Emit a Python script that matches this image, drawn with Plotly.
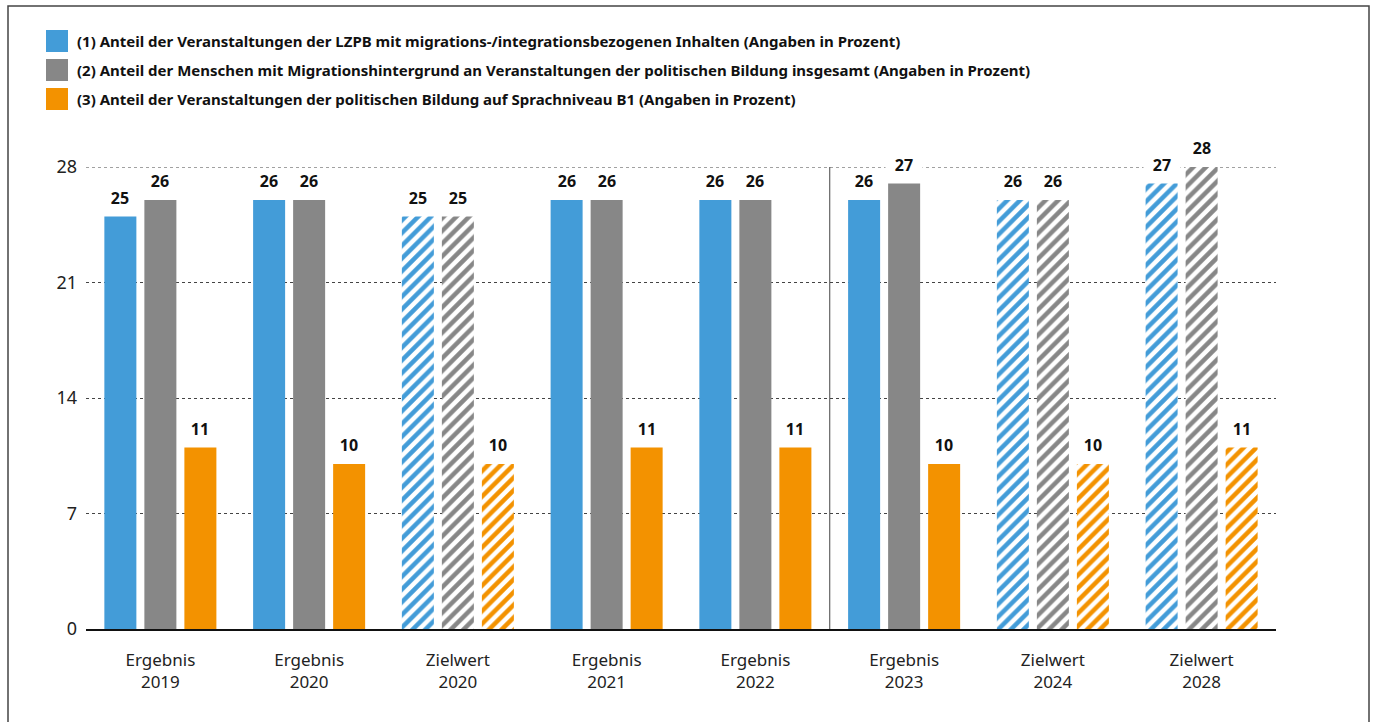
import plotly.graph_objects as go

categories = ["Ergebnis<br>2019", "Ergebnis<br>2020", "Zielwert<br>2020", "Ergebnis<br>2021",
              "Ergebnis<br>2022", "Ergebnis<br>2023", "Zielwert<br>2024", "Zielwert<br>2028"]
hatched = [False, False, True, False, False, False, True, True]

series_names = [
    "(1) Anteil der Veranstaltungen der LZPB mit migrations-/integrationsbezogenen Inhalten (Angaben in Prozent)",
    "(2) Anteil der Menschen mit Migrationshintergrund an Veranstaltungen der politischen Bildung insgesamt (Angaben in Prozent)",
    "(3) Anteil der Veranstaltungen der politischen Bildung auf Sprachniveau B1 (Angaben in Prozent)",
]
values_1 = [25, 26, 25, 26, 26, 26, 26, 27]
values_2 = [26, 26, 25, 26, 26, 27, 26, 28]
values_3 = [11, 10, 10, 11, 11, 10, 10, 11]
colors = ["#439CD8", "#878787", "#F39200"]
y_ticks = [0, 7, 14, 21, 28]

W, H = 1375, 722
L, R, T, B = 86, 99, 167, 93
pw, ph = W - L - R, H - T - B

def px_x(x):
    return (x - L) / pw

def px_y(y):
    return (H - B - y) / ph

fig = go.Figure()
all_vals = [values_1, values_2, values_3]
x_idx = list(range(len(categories)))
n = len(categories)

# top gridline (at the range edge plotly omits it)
fig.add_shape(type="line", xref="x", yref="y", x0=-0.5, x1=n - 0.5,
              y0=y_ticks[-1], y1=y_ticks[-1], layer="below",
              line=dict(color="#444", width=1, dash="3px,3px"))

for i, (name, vals, col) in enumerate(zip(series_names, all_vals, colors)):
    fig.add_trace(go.Bar(
        x=x_idx, y=vals, name=name,
        marker=dict(
            color=col,
            line=dict(width=0),
            pattern=dict(
                shape=[("/" if h else "") for h in hatched],
                fgcolor=[col] * n, bgcolor=["white"] * n, size=9, solidity=0.5,
                fillmode="replace",
            ),
        ),
        showlegend=False,
        cliponaxis=False,
    ))
    for xi, v in zip(x_idx, vals):
        fig.add_annotation(
            x=xi, y=v, xref="x", yref="y", text=f"<b>{v}</b>",
            showarrow=False, xanchor="center", yanchor="bottom",
            xshift=(i - 1) * 40, yshift=6, bgcolor="white", width=34,
            font=dict(family="Noto Sans", size=16, color="#111"),
        )

# custom legend
legend_rows = [41, 70, 99]
for name, col, yc in zip(series_names, colors, legend_rows):
    fig.add_shape(type="rect", xref="paper", yref="paper",
                  x0=px_x(46), x1=px_x(68), y0=px_y(yc + 11), y1=px_y(yc - 11),
                  fillcolor=col, line=dict(width=0))
    fig.add_annotation(xref="paper", yref="paper", x=px_x(75), y=px_y(yc),
                       text=f"<b>{name}</b>", showarrow=False,
                       xanchor="left", yanchor="middle",
                       font=dict(family="Noto Sans", size=15, color="#111"))

# frame
fig.add_shape(type="rect", xref="paper", yref="paper",
              x0=px_x(8), x1=px_x(1369), y0=px_y(740), y1=px_y(6),
              line=dict(color="#444", width=1.5), fillcolor="rgba(0,0,0,0)", layer="below")

# separator between 2022 and 2023
fig.add_shape(type="line", xref="x", yref="y", x0=4.5, x1=4.5, y0=0, y1=28,
              line=dict(color="#444", width=1))

fig.update_layout(
    width=W, height=H,
    margin=dict(l=L, r=R, t=T, b=B),
    paper_bgcolor="white", plot_bgcolor="white",
    barmode="group", bargap=0.193, bargroupgap=0.2,
    font=dict(family="Noto Sans", color="#222"),
    xaxis=dict(
        tickmode="array", tickvals=x_idx, ticktext=categories,
        range=[-0.5, n - 0.5],
        showgrid=False, zeroline=False, showline=True, linecolor="#111", linewidth=1.5,
        ticks="", tickfont=dict(size=17, color="#222"), ticklabelstandoff=15,
    ),
    yaxis=dict(
        range=[0, 28], tickmode="array", tickvals=y_ticks,
        showgrid=True, gridcolor="#444", griddash="3px,3px", gridwidth=1,
        zeroline=False, showline=False, ticks="",
        tickfont=dict(size=18, color="#222"), ticklabelstandoff=8,
    ),
)

fig.write_html("out.html")
